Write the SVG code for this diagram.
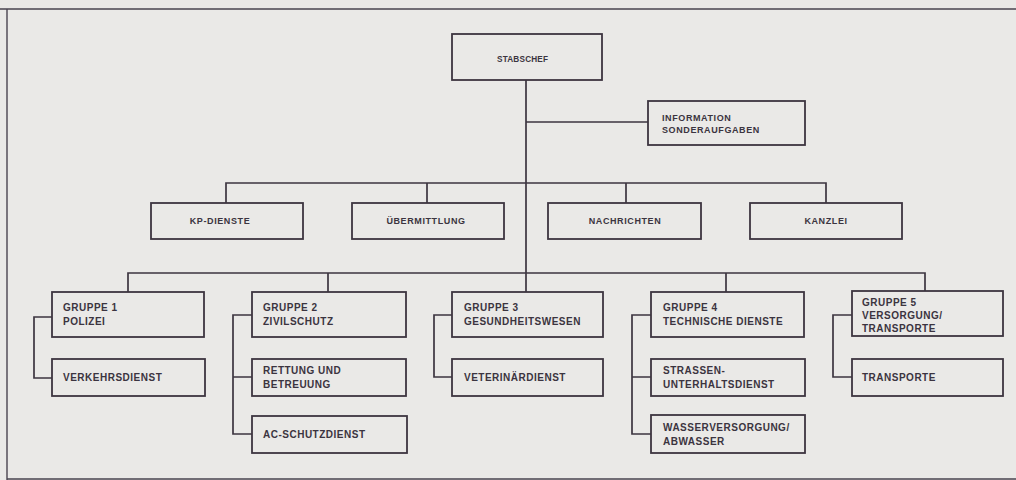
<svg xmlns="http://www.w3.org/2000/svg" width="1016" height="480" viewBox="0 0 1016 480">
<style>
.bg{fill:#eae9e7}
.box{fill:none;stroke:#3d3540;stroke-width:1.8}
.ln{fill:none;stroke:#3d3540;stroke-width:1.7}
.fr{fill:none;stroke:#4a4450;stroke-width:1.4}
text{font-family:"Liberation Sans",Arial,sans-serif;font-weight:bold;fill:#3b3440;font-size:10px;letter-spacing:0.5px}
.c{text-anchor:middle}
.s{font-size:9px;letter-spacing:0.6px}
</style>
<rect class="bg" x="0" y="0" width="1016" height="480"/>
<path class="fr" d="M0 9 H1016 M7 9 V480 M7 479 H1016"/>
<g id="connectors">
<path class="ln" d="M526 80 V273 M526 122 H648"/>
<path class="ln" d="M226 203 V183 H826 V203 M427 183 V203 M626 183 V203"/>
<path class="ln" d="M128 292 V273 H925 V291 M328 273 V292 M726 273 V292 M526 273 V292"/>
<path class="ln" d="M52 317 H34 V378 H52"/>
<path class="ln" d="M252 315 H233 V434 H252 M233 377 H252"/>
<path class="ln" d="M452 315 H434 V377 H452"/>
<path class="ln" d="M651 315 H632 V434 H651 M632 377 H651"/>
<path class="ln" d="M852 315 H833 V377 H852"/>
</g>
<g id="stabschef"><rect class="box" x="452" y="34" width="150" height="46"/><text x="497" y="62" style="font-size:8.2px;letter-spacing:0.2px">STABSCHEF</text></g>
<g id="information"><rect class="box" x="648" y="101" width="157" height="44"/><text class="s" x="662" y="121">INFORMATION</text><text class="s" x="662" y="133">SONDERAUFGABEN</text></g>
<g id="kp-dienste"><rect class="box" x="151" y="203" width="152" height="36"/><text class="c s" x="220" y="224">KP-DIENSTE</text></g>
<g id="uebermittlung"><rect class="box" x="352" y="203" width="152" height="36"/><text class="c s" x="426" y="224">ÜBERMITTLUNG</text></g>
<g id="nachrichten"><rect class="box" x="548" y="203" width="153" height="36"/><text class="c s" x="625" y="224">NACHRICHTEN</text></g>
<g id="kanzlei"><rect class="box" x="750" y="203" width="152" height="36"/><text class="c s" x="826" y="224">KANZLEI</text></g>
<g id="gruppe1"><rect class="box" x="52" y="292" width="152" height="45"/><text x="63" y="311">GRUPPE 1</text><text x="63" y="325">POLIZEI</text></g>
<g id="verkehrsdienst"><rect class="box" x="52" y="359" width="153" height="37"/><text x="63" y="381">VERKEHRSDIENST</text></g>
<g id="gruppe2"><rect class="box" x="252" y="292" width="154" height="45"/><text x="263" y="311">GRUPPE 2</text><text x="263" y="325">ZIVILSCHUTZ</text></g>
<g id="rettung"><rect class="box" x="252" y="359" width="154" height="37"/><text x="263" y="374">RETTUNG UND</text><text x="263" y="388">BETREUUNG</text></g>
<g id="ac-schutzdienst"><rect class="box" x="252" y="416" width="155" height="37"/><text x="263" y="438">AC-SCHUTZDIENST</text></g>
<g id="gruppe3"><rect class="box" x="452" y="292" width="151" height="45"/><text x="464" y="311">GRUPPE 3</text><text x="464" y="325">GESUNDHEITSWESEN</text></g>
<g id="veterinaerdienst"><rect class="box" x="452" y="359" width="151" height="37"/><text x="464" y="381">VETERINÄRDIENST</text></g>
<g id="gruppe4"><rect class="box" x="651" y="292" width="153" height="45"/><text x="663" y="311">GRUPPE 4</text><text x="663" y="325">TECHNISCHE DIENSTE</text></g>
<g id="strassen"><rect class="box" x="651" y="359" width="154" height="37"/><text x="663" y="374">STRASSEN-</text><text x="663" y="388">UNTERHALTSDIENST</text></g>
<g id="wasser"><rect class="box" x="651" y="415" width="154" height="38"/><text x="663" y="431">WASSERVERSORGUNG/</text><text x="663" y="445">ABWASSER</text></g>
<g id="gruppe5"><rect class="box" x="852" y="291" width="151" height="45"/><text x="862" y="306">GRUPPE 5</text><text x="862" y="319">VERSORGUNG/</text><text x="862" y="332">TRANSPORTE</text></g>
<g id="transporte"><rect class="box" x="852" y="359" width="151" height="37"/><text x="862" y="381">TRANSPORTE</text></g>
</svg>
